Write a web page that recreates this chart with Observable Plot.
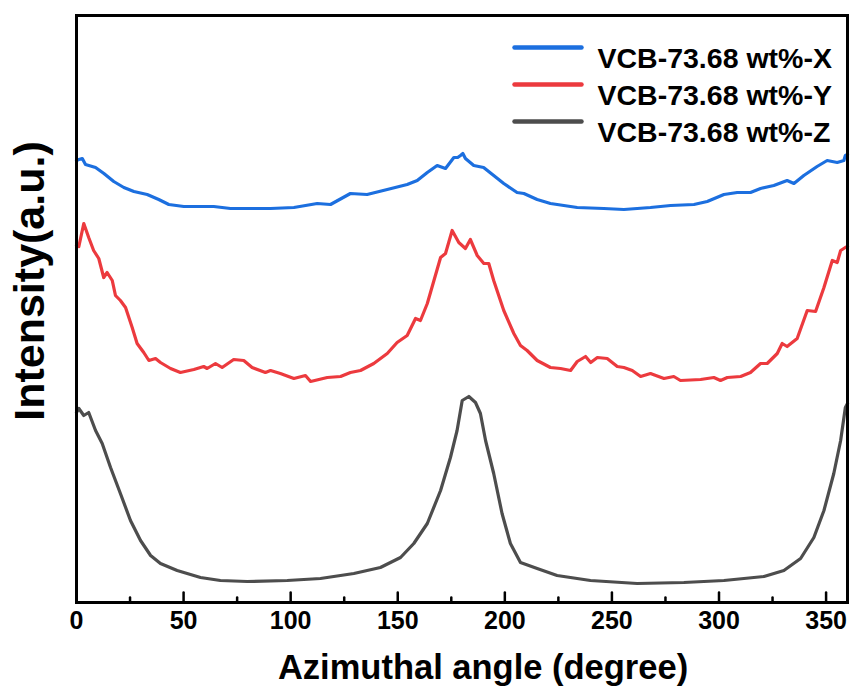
<!DOCTYPE html>
<html>
<head>
<meta charset="utf-8">
<script src="https://cdn.jsdelivr.net/npm/d3@7"></script>
<script src="https://cdn.jsdelivr.net/npm/@observablehq/plot@0.6"></script>
<style>
  html, body { margin: 0; padding: 0; background: #fff; }
  #chart svg { font-family: "Liberation Sans", Arial, sans-serif; display: block; }
</style>
</head>
<body>
<div id="chart"></div>
<script>
// Series names and colours
const seriesNames = ["VCB-73.68 wt%-X", "VCB-73.68 wt%-Y", "VCB-73.68 wt%-Z"];
const seriesColors = ["#1c6fdf", "#ec3a3e", "#4d4d4d"];

// X-direction (blue)
const angleX = [0,1.1,2.7,4.2,8.9,12.8,17.4,22.1,26.8,33.0,38.4,43.1,50.1,64.1,71.9,86.5,90.6,101.5,112.4,118.6,127.9,135.7,145.1,154.4,159.1,163.8,168.4,172.3,176.2,178.0,179.3,180.4,181.6,185.5,190.1,194.8,199.5,205.7,208.9,215.1,221.3,233.8,246.2,255.6,268.0,277.4,288.3,294.5,302.3,308.5,314.7,319.4,325.6,331.8,335.0,339.6,345.8,350.5,355.2,358.3,359.0,360];
const intensityX = [443,444,445,439,436,430,422,416,412,409,404,399,397,397,395,395,395,396,400,399,410,409,414,419,423,431,438,435,446,446,448,450,445,438,436,428,420,411,410,404,400,396,395,394,396,398,399,402,409,411,411,415,418,423,420,428,437,443,441,443,448,449];

// Y-direction (red)
const angleY = [0,1.1,3.4,5.7,8.0,10.4,12.7,14.3,16.7,18.2,20.5,22.9,26.0,28.3,31.4,33.8,36.9,39.2,43.9,48.5,54.8,59.4,61.0,64.9,68.0,73.4,78.1,82.0,88.2,90.6,95.2,101.5,106.9,109.3,117.1,123.3,127.9,132.6,138.8,145.1,149.7,154.4,158.3,160.6,163.8,166.9,170.0,172.3,175.4,178.5,181.6,183.9,187.1,190.2,192.5,194.8,199.5,204.2,207.3,210.4,215.1,221.3,226.0,230.7,233.8,237.7,240.1,243.2,247.8,252.5,255.6,259.5,263.4,268.0,274.3,278.9,282.0,291.4,297.6,300.7,303.9,310.1,314.7,319.4,322.5,327.2,329.5,331.8,336.5,341.2,345.1,349.0,352.9,355.2,356.8,359.0,360];
const intensityY = [358,357,380,366,353,345,326,331,323,308,303,296,276,260,251,243,245,241,235,231,234,237,235,240,236,244,243,236,231,233,230,225,228,222,226,227,231,233,240,250,261,268,285,283,300,323,346,350,373,361,355,364,348,340,340,323,293,270,258,253,243,236,235,233,242,247,241,246,245,237,236,233,227,230,225,227,223,224,226,223,226,227,231,240,240,250,260,257,265,293,292,316,343,341,353,356,357];

// Z-direction (gray)
const angleZ = [0,1.1,3.4,5.7,8.9,12.0,15.9,20.5,25.2,29.9,34.6,39.2,47.0,57.9,67.2,79.7,98.4,113.9,129.5,141.9,151.3,157.5,163.8,170.0,174.6,177.7,180.1,183.2,186.3,188.6,191.0,194.8,198.7,202.6,207.3,215.1,224.4,240.0,261.8,283.6,302.3,321.0,330.3,338.1,344.3,349.0,353.6,356.8,359.0,360];
const intensityZ = [191,195,188,191,173,160,136,110,83,63,48,40,33,26,23,22,23,25,30,36,46,60,80,113,146,173,203,207,201,190,163,130,90,60,41,35,28,23,20,21,23,27,33,45,66,93,130,163,196,200];

// Axis ticks
const majorTicks = [0, 50, 100, 150, 200, 250, 300, 350];
const minorTicks = [25, 75, 125, 175, 225, 275, 325];

const xLabel = "Azimuthal angle (degree)";
const yLabel = "Intensity(a.u.)";

const allAngles = [angleX, angleY, angleZ];
const allIntensities = [intensityX, intensityY, intensityZ];
const rows = [];
seriesNames.forEach((name, i) => {
  allAngles[i].forEach((a, j) => rows.push({series: name, angle: a, intensity: allIntensities[i][j]}));
});

const lineShape = { draw(context, l) { context.moveTo(0, 0); context.lineTo(0, -l); } };

const legendMarks = [];
seriesNames.forEach((name, i) => {
  legendMarks.push(Plot.vector([name], {
    frameAnchor: "top-right", dx: -333, dy: 32 + 37 * i,
    length: 67, rotate: 90, anchor: "start", shape: lineShape,
    stroke: seriesColors[i], strokeWidth: 4.5, strokeLinecap: "round"
  }));
  legendMarks.push(Plot.text([name], {
    frameAnchor: "top-right", dx: -250, dy: 32 + 37 * i,
    text: d => d, textAnchor: "start", fontSize: 28.5, fontWeight: "bold", fill: "#000"
  }));
});

const plot = Plot.plot({
  width: 853,
  height: 697,
  marginLeft: 76,
  marginRight: 6,
  marginTop: 15,
  marginBottom: 95,
  x: { domain: [0, 360], axis: null },
  y: { domain: [1, 588], axis: null },
  color: { domain: seriesNames, range: seriesColors },
  marks: [
    Plot.line(rows, { x: "angle", y: "intensity", z: "series", stroke: "series", strokeWidth: 3.2, strokeLinejoin: "round" }),
    Plot.frame({ stroke: "#000", strokeWidth: 3 }),
    Plot.vector(majorTicks, { x: d => d, frameAnchor: "bottom", length: 10, rotate: 0, anchor: "start", shape: lineShape, stroke: "#000", strokeWidth: 2.5 }),
    Plot.vector(minorTicks, { x: d => d, frameAnchor: "bottom", length: 5, rotate: 0, anchor: "start", shape: lineShape, stroke: "#000", strokeWidth: 2.5 }),
    Plot.text(majorTicks, { x: d => d, frameAnchor: "bottom", dy: 26, text: d => String(d), fontSize: 25, fontWeight: "bold", fill: "#000" }),
    Plot.text([xLabel], { frameAnchor: "bottom", dx: 21, dy: 76, text: d => d, fontSize: 34.5, fontWeight: "bold", fill: "#000" }),
    Plot.text([yLabel], { frameAnchor: "left", textAnchor: "middle", dx: -46, dy: -28, rotate: -90, text: d => d, fontSize: 43, fontWeight: "bold", fill: "#000" }),
    ...legendMarks
  ]
});
document.getElementById("chart").appendChild(plot);
</script>
</body>
</html>
